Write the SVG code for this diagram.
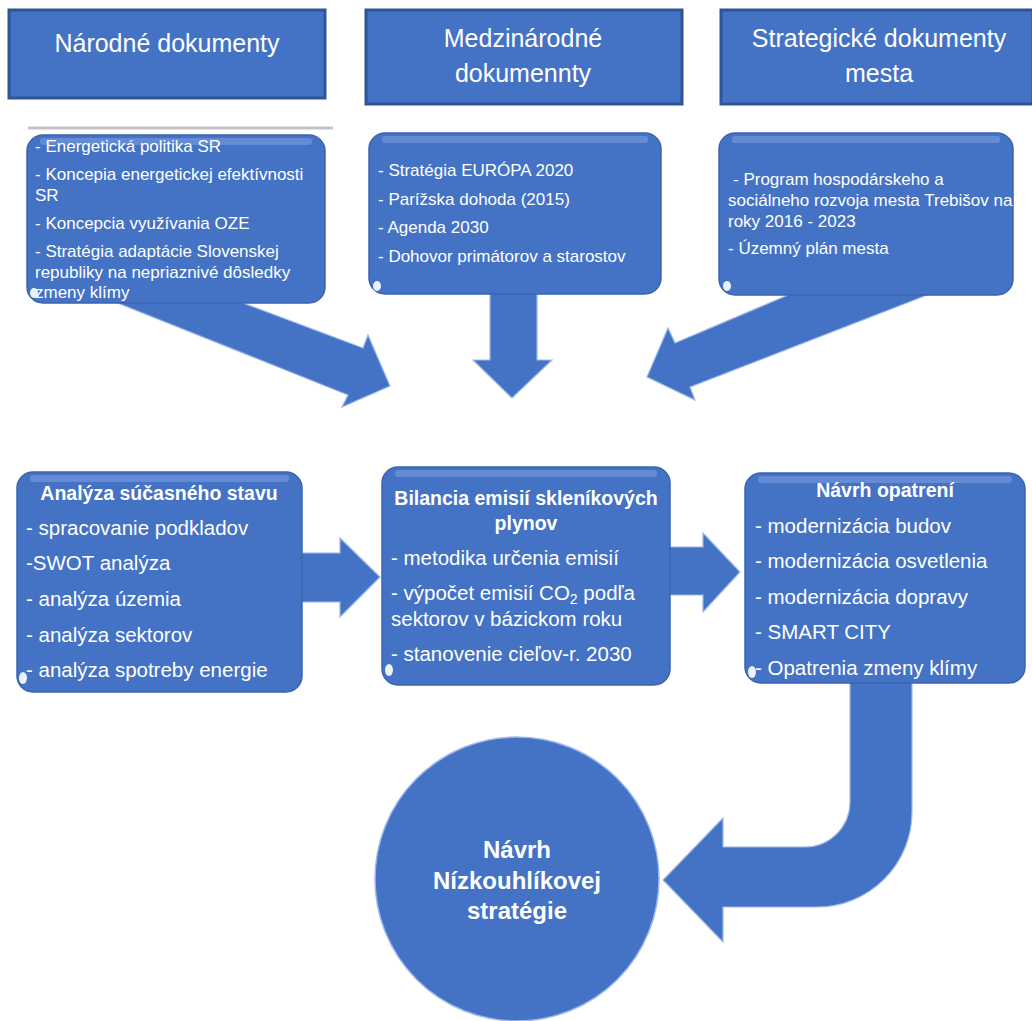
<svg xmlns="http://www.w3.org/2000/svg" width="1032" height="1021" viewBox="0 0 1032 1021">
<defs>
<style>
.hdr{fill:#4472c4;stroke:#2f5597;stroke-width:3}
.box{fill:#4472c4;stroke:#3a64b0;stroke-width:1.5}
.hl{fill:#7fa0e0;opacity:0.55}
.blob{fill:#ffffff;opacity:0.9}
.arrow{fill:#4472c4;stroke:#9cb8ec;stroke-width:1.2;stroke-linejoin:miter}
.ht{font-family:"Liberation Sans",Arial,sans-serif;font-size:25px;fill:#ffffff;text-anchor:middle}
.st{font-family:"Liberation Sans",Arial,sans-serif;font-size:17px;fill:#ffffff}
.bt{font-family:"Liberation Sans",Arial,sans-serif;font-size:20.5px;fill:#ffffff}
.tt{font-family:"Liberation Sans",Arial,sans-serif;font-size:19.5px;font-weight:bold;fill:#ffffff;text-anchor:middle}
.ct{font-family:"Liberation Sans",Arial,sans-serif;font-size:24px;font-weight:bold;fill:#ffffff;text-anchor:middle}
</style>
</defs>
<rect width="1032" height="1021" fill="#ffffff"/>

<g id="connectors">
  <polygon class="arrow" points="208,290 363,348 368,335 390,386 342,407 348,395 85,290"/>
  <polygon class="arrow" points="490,285 537,285 537,360 552,360 512,398 473,360 490,360"/>
  <polygon class="arrow" points="800,290 675,343 668,328 647,377 695,400 690,387 940,290"/>
  <polygon class="arrow" points="295,553 340,553 340,538 380,577 340,617 340,602 295,602"/>
  <polygon class="arrow" points="665,547 703,547 703,533 740,572 703,612 703,595 665,595"/>
  <path class="arrow" d="M850 675 L912 675 L912 812 A95 95 0 0 1 817 907 L723 907 L723 942 L663 880 L723 818 L723 847 L805 847 A45 45 0 0 0 850 802 Z"/>
</g>

<g id="hdr-narodne">
  <rect class="hdr" x="9" y="10" width="316" height="88"/>
  <text class="ht" x="167" y="52">Národné dokumenty</text>
</g>
<g id="hdr-medzinarodne">
  <rect class="hdr" x="366" y="10" width="316" height="94"/>
  <text class="ht" x="523" y="47">Medzinárodné</text>
  <text class="ht" x="523" y="82">dokumennty</text>
</g>
<g id="hdr-strategicke">
  <rect class="hdr" x="721" y="10" width="312" height="94"/>
  <text class="ht" x="879" y="47">Strategické dokumenty</text>
  <text class="ht" x="879" y="82">mesta</text>
</g>

<line x1="28" y1="128" x2="333" y2="128" stroke="#c4c4c4" stroke-width="3"/>

<g id="box-narodne">
  <rect class="box" x="27" y="135" width="298" height="168" rx="16"/>
  <rect class="hl" x="40" y="138" width="272" height="7" rx="3"/>
  <text class="st" x="35" y="152">- Energetická politika SR</text>
  <text class="st" x="35" y="180">- Koncepia energetickej efektívnosti</text>
  <text class="st" x="35" y="201">SR</text>
  <text class="st" x="35" y="229">- Koncepcia využívania OZE</text>
  <text class="st" x="35" y="257">- Stratégia adaptácie Slovenskej</text>
  <text class="st" x="35" y="278">republiky na nepriaznivé dôsledky</text>
  <text class="st" x="35" y="298">zmeny klímy</text>
  <ellipse class="blob" cx="34" cy="293" rx="4" ry="5"/>
</g>

<g id="box-medzinarodne">
  <rect class="box" x="369" y="133" width="292" height="161" rx="16"/>
  <rect class="hl" x="382" y="136" width="266" height="7" rx="3"/>
  <text class="st" x="378" y="176">- Stratégia EURÓPA 2020</text>
  <text class="st" x="378" y="205">- Parížska dohoda (2015)</text>
  <text class="st" x="378" y="233">- Agenda 2030</text>
  <text class="st" x="378" y="262">- Dohovor primátorov a starostov</text>
  <ellipse class="blob" cx="377" cy="286" rx="4" ry="5"/>
</g>

<g id="box-strategicke">
  <rect class="box" x="719" y="133" width="294" height="162" rx="16"/>
  <rect class="hl" x="732" y="136" width="268" height="7" rx="3"/>
  <text class="st" x="733" y="185">- Program hospodárskeho a</text>
  <text class="st" x="728" y="206">sociálneho rozvoja mesta Trebišov na</text>
  <text class="st" x="728" y="227">roky 2016 - 2023</text>
  <text class="st" x="728" y="254">- Územný plán mesta</text>
  <ellipse class="blob" cx="727" cy="286" rx="4" ry="5"/>
</g>

<g id="box-analyza">
  <rect class="box" x="17" y="472" width="285" height="220" rx="16"/>
  <rect class="hl" x="30" y="475" width="259" height="7" rx="3"/>
  <text class="tt" x="159" y="500">Analýza súčasného stavu</text>
  <text class="bt" x="26" y="535">- spracovanie podkladov</text>
  <text class="bt" x="26" y="570">-SWOT analýza</text>
  <text class="bt" x="26" y="606">- analýza územia</text>
  <text class="bt" x="26" y="642">- analýza sektorov</text>
  <text class="bt" x="26" y="677">- analýza spotreby energie</text>
  <ellipse class="blob" cx="23" cy="678" rx="4" ry="6"/>
</g>

<g id="box-bilancia">
  <rect class="box" x="382" y="467" width="288" height="218" rx="16"/>
  <rect class="hl" x="395" y="470" width="262" height="7" rx="3"/>
  <text class="tt" x="526" y="505">Bilancia emisií skleníkových</text>
  <text class="tt" x="526" y="530">plynov</text>
  <text class="bt" x="391" y="565">- metodika určenia emisií</text>
  <text class="bt" x="391" y="600">- výpočet emisií CO<tspan font-size="14" dy="4">2</tspan><tspan dy="-4"> podľa</tspan></text>
  <text class="bt" x="391" y="626">sektorov v bázickom roku</text>
  <text class="bt" x="391" y="661">- stanovenie cieľov-r. 2030</text>
  <ellipse class="blob" cx="389" cy="670" rx="4" ry="6"/>
</g>

<g id="box-navrh">
  <rect class="box" x="745" y="473" width="280" height="210" rx="16"/>
  <rect class="hl" x="758" y="476" width="254" height="7" rx="3"/>
  <text class="tt" x="885" y="497">Návrh opatrení</text>
  <text class="bt" x="755" y="533">- modernizácia budov</text>
  <text class="bt" x="755" y="568">- modernizácia osvetlenia</text>
  <text class="bt" x="755" y="604">- modernizácia dopravy</text>
  <text class="bt" x="755" y="639">- SMART CITY</text>
  <text class="bt" x="755" y="675">- Opatrenia zmeny klímy</text>
  <ellipse class="blob" cx="752" cy="672" rx="4" ry="6"/>
</g>

<g id="circle-strategia">
  <circle cx="517" cy="879" r="142" fill="#4472c4" stroke="#9cb8ec" stroke-width="1.5"/>
  <text class="ct" x="517" y="858">Návrh</text>
  <text class="ct" x="517" y="889">Nízkouhlíkovej</text>
  <text class="ct" x="517" y="919">stratégie</text>
</g>
</svg>
